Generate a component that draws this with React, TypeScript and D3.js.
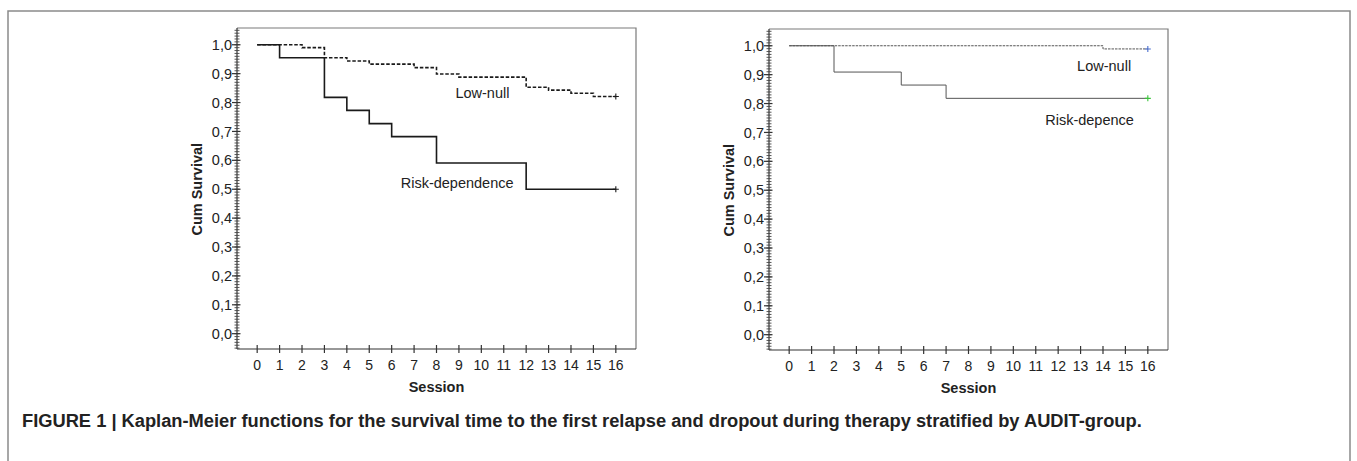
import { useEffect, useRef } from "react";
import * as d3 from "d3";

// session ticks and survival ticks
const xTicks = [0, 1, 2, 3, 4, 5, 6, 7, 8, 9, 10, 11, 12, 13, 14, 15, 16];
const yTicks = [0, 0.1, 0.2, 0.3, 0.4, 0.5, 0.6, 0.7, 0.8, 0.9, 1.0];

// left panel: relapse
const leftLowTimes = [0, 2, 3, 4, 5, 7, 8, 9, 12, 13, 14, 15, 16];
const leftLowSurv = [1.0, 0.99, 0.955, 0.944, 0.933, 0.921, 0.899, 0.888, 0.853, 0.843, 0.832, 0.821, 0.821];
const leftRiskTimes = [0, 1, 3, 4, 5, 6, 8, 12, 16];
const leftRiskSurv = [1.0, 0.955, 0.818, 0.773, 0.727, 0.682, 0.591, 0.5, 0.5];

// right panel: dropout
const rightLowTimes = [0, 14, 16];
const rightLowSurv = [1.0, 0.989, 0.989];
const rightRiskTimes = [0, 2, 5, 7, 16];
const rightRiskSurv = [1.0, 0.909, 0.864, 0.818, 0.818];

const caption =
  "FIGURE 1 | Kaplan-Meier functions for the survival time to the first relapse and dropout during therapy stratified by AUDIT-group.";

const FONT = "'Liberation Sans', Arial, sans-serif";

interface Panel {
  left: number;
  top: number;
  lowTimes: number[];
  lowSurv: number[];
  riskTimes: number[];
  riskSurv: number[];
  lowLabel: string;
  riskLabel: string;
  lowLabelPos: [number, number];
  riskLabelPos: [number, number];
  strokeWidth: number;
  strokeColor: string;
  lowDash: string;
  lowMark: string;
  riskMark: string;
}

const panels: Panel[] = [
  {
    left: 237,
    top: 28,
    lowTimes: leftLowTimes,
    lowSurv: leftLowSurv,
    riskTimes: leftRiskTimes,
    riskSurv: leftRiskSurv,
    lowLabel: "Low-null",
    riskLabel: "Risk-dependence",
    lowLabelPos: [10.05, 0.814],
    riskLabelPos: [8.92, 0.505],
    strokeWidth: 1.6,
    strokeColor: "#1a1a1a",
    lowDash: "3.5,1.8",
    lowMark: "#1a1a1a",
    riskMark: "#1a1a1a",
  },
  {
    left: 769,
    top: 29,
    lowTimes: rightLowTimes,
    lowSurv: rightLowSurv,
    riskTimes: rightRiskTimes,
    riskSurv: rightRiskSurv,
    lowLabel: "Low-null",
    riskLabel: "Risk-depence",
    lowLabelPos: [14.05, 0.913],
    riskLabelPos: [13.4, 0.727],
    strokeWidth: 1,
    strokeColor: "#555",
    lowDash: "2.5,1",
    lowMark: "#4a6fd0",
    riskMark: "#3cc43c",
  },
];

export default function App() {
  const svgRef = useRef<SVGSVGElement | null>(null);

  useEffect(() => {
    if (!svgRef.current) return;
    const W = 1357;
    const H = 461;
    const svg = d3.select(svgRef.current);
    svg.selectAll("*").remove();
    svg.attr("width", W).attr("height", H);

    // outer frame (open at bottom)
    svg
      .append("path")
      .attr("d", `M8,${H} L8,11 L1350,11 L1350,${H}`)
      .attr("fill", "none")
      .attr("stroke", "#8a8a8a")
      .attr("stroke-width", 1.5);

    const boxW = 399;
    const boxH = 321;

    panels.forEach((p) => {
      const g = svg.append("g").attr("transform", `translate(${p.left},${p.top})`);

      const x = d3.scaleLinear().domain([-0.9, 16.9]).range([0, boxW]);
      const y = d3.scaleLinear().domain([-0.053, 1.058]).range([boxH, 0]);

      // box: top and right sides
      g.append("path")
        .attr("d", `M0,0 L${boxW},0 L${boxW},${boxH}`)
        .attr("fill", "none")
        .attr("stroke", "#7a7a7a")
        .attr("stroke-width", 1.2);

      // y axis line
      g.append("line")
        .attr("x1", 0).attr("x2", 0).attr("y1", 0).attr("y2", boxH)
        .attr("stroke", "#333").attr("stroke-width", 1.2);
      // x axis line
      g.append("line")
        .attr("x1", 0).attr("x2", boxW).attr("y1", boxH).attr("y2", boxH)
        .attr("stroke", "#333").attr("stroke-width", 1.2);

      // y minor ticks every 0.01
      const minor = d3.range(-5, 106).map((v) => v / 100);
      g.append("g")
        .selectAll("line")
        .data(minor)
        .enter()
        .append("line")
        .attr("x1", -2.5).attr("x2", 2.5)
        .attr("y1", (d) => y(d)).attr("y2", (d) => y(d))
        .attr("stroke", "#444").attr("stroke-width", 0.9);

      // y major ticks + labels
      const yg = g.append("g").selectAll("g").data(yTicks).enter().append("g")
        .attr("transform", (d) => `translate(0,${y(d)})`);
      yg.append("line").attr("x1", -5).attr("x2", 3.5)
        .attr("stroke", "#333").attr("stroke-width", 1.2);
      yg.append("text")
        .attr("x", -5)
        .attr("dy", "0.35em")
        .attr("text-anchor", "end")
        .attr("font-family", FONT)
        .attr("font-size", 14.5)
        .attr("fill", "#222")
        .text((d) => d3.format(".1f")(d).replace(".", ","));

      // x ticks + labels
      const xg = g.append("g").selectAll("g").data(xTicks).enter().append("g")
        .attr("transform", (d) => `translate(${x(d)},${boxH})`);
      xg.append("line").attr("y1", -4).attr("y2", 4)
        .attr("stroke", "#333").attr("stroke-width", 1.2);
      xg.append("text")
        .attr("y", 21)
        .attr("text-anchor", "middle")
        .attr("font-family", FONT)
        .attr("font-size", 14)
        .attr("fill", "#222")
        .text((d) => String(d));

      // axis titles
      g.append("text")
        .attr("x", x(8))
        .attr("y", boxH + 43)
        .attr("text-anchor", "middle")
        .attr("font-family", FONT)
        .attr("font-size", 14.5)
        .attr("font-weight", "bold")
        .attr("fill", "#222")
        .text("Session");
      g.append("text")
        .attr("transform", `translate(-35,${y(0.5)}) rotate(-90)`)
        .attr("text-anchor", "middle")
        .attr("font-family", FONT)
        .attr("font-size", 14.5)
        .attr("font-weight", "bold")
        .attr("fill", "#222")
        .text("Cum Survival");

      const line = d3
        .line<[number, number]>()
        .x((d) => x(d[0]))
        .y((d) => y(d[1]))
        .curve(d3.curveStepAfter);

      const low: [number, number][] = p.lowTimes.map((t, i) => [t, p.lowSurv[i]]);
      const risk: [number, number][] = p.riskTimes.map((t, i) => [t, p.riskSurv[i]]);

      g.append("path")
        .attr("d", line(low) ?? "")
        .attr("fill", "none")
        .attr("stroke", p.strokeColor)
        .attr("stroke-width", p.strokeWidth)
        .attr("stroke-dasharray", p.lowDash);
      g.append("path")
        .attr("d", line(risk) ?? "")
        .attr("fill", "none")
        .attr("stroke", p.strokeColor)
        .attr("stroke-width", p.strokeWidth);

      // censor marks at end
      const marks: [number, number, string][] = [
        [low[low.length - 1][0], low[low.length - 1][1], p.lowMark],
        [risk[risk.length - 1][0], risk[risk.length - 1][1], p.riskMark],
      ];
      marks.forEach(([t, s, c]) => {
        const cx = x(t);
        const cy = y(s);
        g.append("path")
          .attr("d", `M${cx - 3},${cy} L${cx + 3},${cy} M${cx},${cy - 3} L${cx},${cy + 3}`)
          .attr("stroke", c)
          .attr("stroke-width", 1.1);
      });

      // curve labels
      g.append("text")
        .attr("x", x(p.lowLabelPos[0]))
        .attr("y", y(p.lowLabelPos[1]))
        .attr("text-anchor", "middle")
        .attr("font-family", FONT)
        .attr("font-size", 14.5)
        .attr("fill", "#222")
        .text(p.lowLabel);
      g.append("text")
        .attr("x", x(p.riskLabelPos[0]))
        .attr("y", y(p.riskLabelPos[1]))
        .attr("text-anchor", "middle")
        .attr("font-family", FONT)
        .attr("font-size", 14.5)
        .attr("fill", "#222")
        .text(p.riskLabel);
    });

    // caption
    svg
      .append("text")
      .attr("x", 22)
      .attr("y", 427)
      .attr("font-family", FONT)
      .attr("font-size", 18.3)
      .attr("font-weight", "bold")
      .attr("fill", "#222")
      .text(caption);
  }, []);

  return (
    <svg
      ref={svgRef}
      style={{ position: "absolute", left: 0, top: 0, background: "#fff" }}
    ></svg>
  );
}
